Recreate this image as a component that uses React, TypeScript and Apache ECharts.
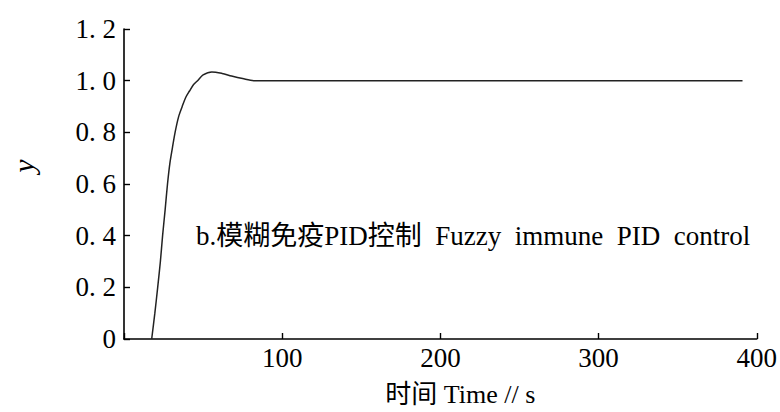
import React, { useEffect, useRef } from "react";
import * as echarts from "echarts";

const timeValues = [17.5, 19.5, 21.3, 23, 24.4, 26, 27.5, 29, 30.6, 32.3, 34.5, 36.8, 39, 41.4, 44, 46.5, 50, 55.5, 62, 68, 75, 82, 100, 200, 300, 391];
const yValues = [0, 0.1, 0.2, 0.3, 0.4, 0.5, 0.6, 0.68, 0.74, 0.8, 0.86, 0.9, 0.935, 0.96, 0.985, 1.0, 1.022, 1.034, 1.028, 1.018, 1.008, 1.0, 1.0, 1.0, 1.0, 1.0];
const xTicks = [0, 100, 200, 300, 400];
const yTicks = [0, 0.2, 0.4, 0.6, 0.8, 1.0, 1.2];
const annotation = "b.模糊免疫PID控制  Fuzzy  immune  PID  control";
const xName = "时间 Time // s";
const yName = "y";

const SERIF = "'Liberation Serif', 'Noto Sans CJK SC', serif";

export default function App() {
  const ref = useRef<HTMLDivElement>(null);
  useEffect(() => {
    if (!ref.current) return;
    const chart = echarts.init(ref.current, null, { renderer: "svg" });
    chart.setOption({
      animation: false,
      backgroundColor: "#ffffff",
      grid: { left: 121, right: 17, top: 29, bottom: 71 },
      xAxis: {
        type: "value",
        min: xTicks[0],
        max: xTicks[xTicks.length - 1],
        interval: 100,
        name: xName,
        nameLocation: "middle",
        nameGap: 42,
        nameTextStyle: { fontFamily: SERIF, fontSize: 26, color: "#000", padding: [0, 0, 0, 40] },
        axisLine: { show: true, lineStyle: { color: "#000", width: 1.6 } },
        axisTick: { show: true, inside: true, length: 6, lineStyle: { color: "#000", width: 1.4 } },
        axisLabel: {
          fontFamily: SERIF,
          fontSize: 27,
          color: "#000",
          margin: 5,
          formatter: (v: number) => (v === 0 ? "" : String(v)),
        },
        splitLine: { show: false },
      },
      yAxis: {
        type: "value",
        min: yTicks[0],
        max: yTicks[yTicks.length - 1],
        interval: 0.2,
        name: yName,
        nameLocation: "middle",
        nameGap: 86,
        nameTextStyle: { fontFamily: SERIF, fontSize: 30, fontStyle: "italic", color: "#000", padding: [0, 0, 0, 36] },
        axisLine: { show: true, lineStyle: { color: "#000", width: 1.6 } },
        axisTick: { show: true, inside: true, length: 6, lineStyle: { color: "#000", width: 1.4 } },
        axisLabel: {
          fontFamily: SERIF,
          fontSize: 27,
          color: "#000",
          margin: 8,
          formatter: (v: number) => (v === 0 ? "0" : v.toFixed(1).replace(".", ". ")),
        },
        splitLine: { show: false },
      },
      series: [
        {
          type: "line",
          data: timeValues.map((t, i) => [t, yValues[i]]),
          showSymbol: false,
          smooth: 0.3,
          lineStyle: { color: "#222", width: 1.5 },
        },
      ],
      graphic: [
        {
          type: "text",
          left: 196,
          top: 222,
          style: { text: annotation, font: `27px ${SERIF}`, fill: "#000" },
        },
      ],
    });
    return () => chart.dispose();
  }, []);
  return <div ref={ref} style={{ width: 780, height: 412, position: "absolute", left: 0, top: 0 }} />;
}
